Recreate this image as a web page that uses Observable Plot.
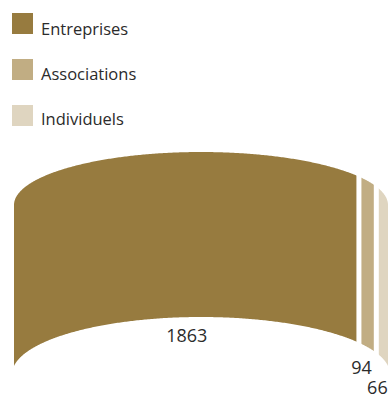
<!DOCTYPE html>
<html>
<head>
<meta charset="utf-8">
<script src="https://cdn.jsdelivr.net/npm/d3@7"></script>
<script src="https://cdn.jsdelivr.net/npm/@observablehq/plot@0.6"></script>
<style>
  html, body { margin: 0; background: #fff; }
  body { width: 390px; height: 398px; overflow: hidden; font-family: "Open Sans", sans-serif; color: #2b2b2b; }
  #legend { height: 150px; position: relative; }
  .swatch { position: absolute; left: 12px; width: 21px; height: 21px; }
  .name { position: absolute; left: 41px; font-size: 16.5px; line-height: 22px; }
  svg { display: block; }
</style>
</head>
<body>
<div id="legend"></div>
<div id="chart"></div>
<script>
const categories = ["Entreprises", "Associations", "Individuels"];
const values = [1863, 94, 66];
const colors = ["#977b3f", "#c1ad83", "#dfd5c0"];

const total = d3.sum(values);
const ends = d3.cumsum(values);
const starts = [0, ...ends.slice(0, -1)];

// Height of an elliptical arch over the value axis; reach below 1 leaves the arch cut off
// above its springing line at both ends.
const lift = (v, reach = 1) => Math.sqrt(Math.max(0, 1 - (reach * (2 * v / total - 1)) ** 2));
const lowerEdge = (v) => 24 + 57 * lift(v, 0.99);
const upperEdge = (v) => 193 + 53 * lift(v);

// Sample each segment more densely near the steep ends of the arch.
const steps = d3.range(0, 361).map((i) => total * (1 - Math.cos(Math.PI * i / 360)) / 2);
const ribbon = categories.flatMap((name, i) =>
  [starts[i], ...steps.filter((v) => v > starts[i] && v < ends[i]), ends[i]].map((v) => ({
    name,
    v,
    lower: lowerEdge(v),
    upper: upperEdge(v)
  }))
);

const labels = categories.map((name, i) => {
  const v = starts[i] + values[i] / 2;
  return { text: String(values[i]), v, y: lowerEdge(v) };
});

// Swatches and their names are spaced slightly differently.
const legend = d3.select("#legend");
legend.selectAll(".swatch").data(colors).join("div")
  .attr("class", "swatch")
  .style("top", (d, i) => `${13 + 46 * i}px`)
  .style("background", (d) => d);
legend.selectAll(".name").data(categories).join("div")
  .attr("class", "name")
  .style("top", (d, i) => `${18 + 45 * i}px`)
  .text((d) => d);

const chart = Plot.plot({
  width: 390,
  height: 248,
  margin: 0,
  style: { background: "transparent", fontFamily: "'Open Sans', sans-serif", fontSize: "18px" },
  x: { domain: [0, total], range: [14, 388], axis: null },
  y: { domain: [0, 248], range: [248, 0], axis: null },
  color: { domain: categories, range: colors },
  marks: [
    Plot.areaY(ribbon, { x: "v", y1: "lower", y2: "upper", fill: "name", z: "name", curve: "linear" }),
    // White gaps between the segments
    Plot.ruleX(ends.slice(0, -1), { stroke: "#fff", strokeWidth: 5 }),
    Plot.text([labels[0]], { x: "v", y: "y", text: "text", dy: 19, fill: "#2b2b2b" }),
    Plot.text([labels[1]], { x: "v", y: "y", text: "text", dx: -6, dy: 21, fill: "#2b2b2b" }),
    Plot.text([labels[2]], { x: "v", y: "y", text: "text", dx: -5, dy: 30, fill: "#2b2b2b" })
  ]
});
document.getElementById("chart").append(chart);
</script>
</body>
</html>
